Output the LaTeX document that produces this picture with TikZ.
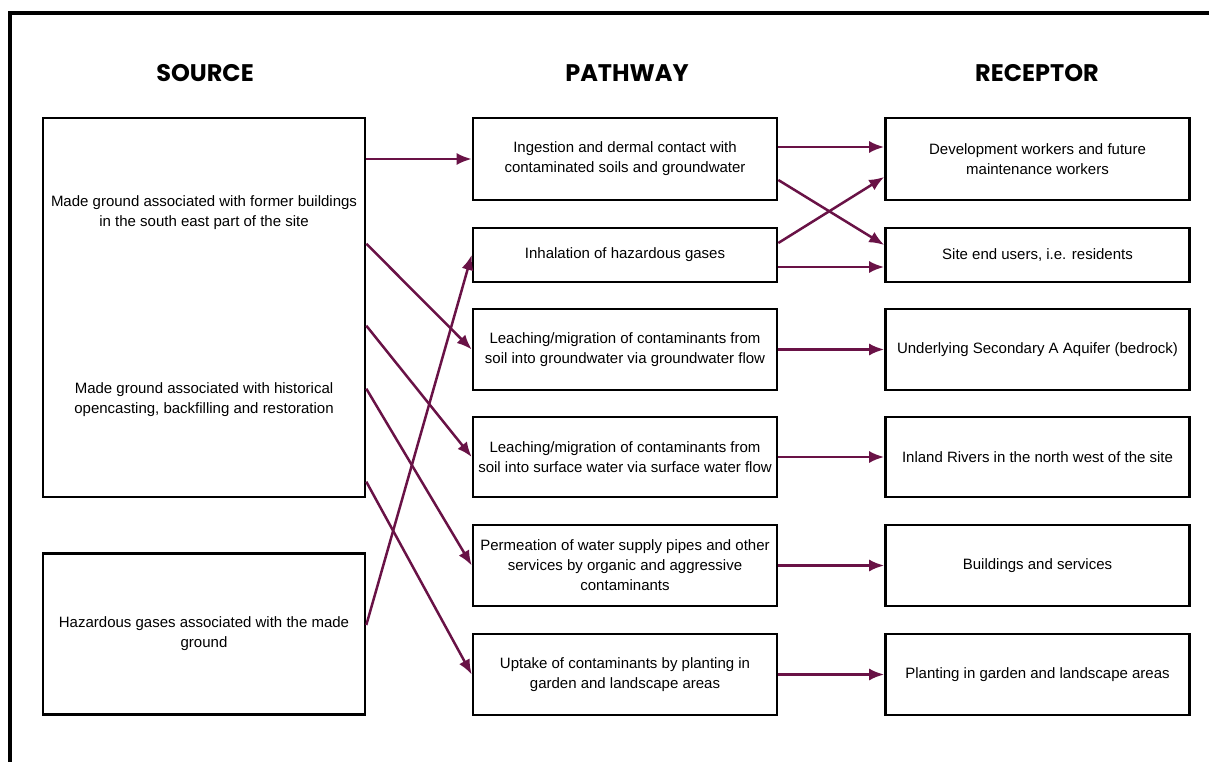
\documentclass[tikz,border=0pt]{standalone}
\usepackage{fontspec}
\setmainfont{Liberation Sans}
\newfontfamily\headfont{Poppins}
\usetikzlibrary{arrows.meta}
\definecolor{linkpurple}{RGB}{105,18,70}
\tikzset{
  boxtext/.style={align=center, inner sep=2pt, font=\fontsize{15}{20}\selectfont},
  box/.style={boxtext, draw, line width=2.6pt},
  colbox/.style={box, minimum width=304pt},
  heading/.style={font=\headfont\bfseries\fontsize{24}{28}\selectfont},
  link/.style={linkpurple, line width=2.5pt, -{Latex[length=15pt,width=12pt]}}
}

\begin{document}
\begin{tikzpicture}[x=1pt, y=-1pt]
                    \useasboundingbox (0,0) rectangle (1209,762);
                    \draw[line width=4pt] (1209,13) -- (10,13) -- (10,762);
                    \node[heading] (hsource) at (205,73) {SOURCE};
                    \node[heading] (hpathway) at (627,73) {PATHWAY};
                    \node[heading] (hreceptor) at (1037,73) {RECEPTOR};
                    \node[box, minimum width=322pt, minimum height=379pt] (src1) at (204,307.5) {};
                    \node[boxtext] (src1a) at (204,213)
                        {Made ground associated with former buildings\\in the south east part of the site};
                    \node[boxtext] (src1b) at (204,400)
                        {Made ground associated with historical\\opencasting, backfilling and restoration};
                    \node[box, minimum width=322pt, minimum height=161pt] (src2) at (204,634)
                        {Hazardous gases associated with the made\\ground};
                    \node[colbox, minimum height=82pt] (path1) at (625,159)
                        {Ingestion and dermal contact with\\contaminated soils and groundwater};
                    \node[colbox, minimum height=54pt] (path2) at (625,255)
                        {Inhalation of hazardous gases};
                    \node[colbox, minimum height=81pt] (path3) at (625,349.5)
                        {Leaching/migration of contaminants from\\soil into groundwater via groundwater flow};
                    \node[colbox, minimum height=80pt] (path4) at (625,457)
                        {Leaching/migration of contaminants from\\soil into surface water via surface water flow};
                    \node[colbox, minimum height=81pt] (path5) at (625,565.5)
                        {Permeation of water supply pipes and other\\services by organic and aggressive\\contaminants};
                    \node[colbox, minimum height=81pt] (path6) at (625,674.5)
                        {Uptake of contaminants by planting in\\garden and landscape areas};
                    \node[colbox, minimum height=82pt] (rec1) at (1037.5,159)
                        {Development workers and future\\maintenance workers};
                    \node[colbox, minimum height=54pt] (rec2) at (1037.5,255)
                        {Site end users, i.e. residents};
                    \node[colbox, minimum height=81pt] (rec3) at (1037.5,349.5)
                        {Underlying Secondary A Aquifer (bedrock)};
                    \node[colbox, minimum height=80pt] (rec4) at (1037.5,457)
                        {Inland Rivers in the north west of the site};
                    \node[colbox, minimum height=81pt] (rec5) at (1037.5,565.5)
                        {Buildings and services};
                    \node[colbox, minimum height=81pt] (rec6) at (1037.5,674.5)
                        {Planting in garden and landscape areas};
                    \draw[link] (src1.east |- path1.west) -- (path1.west);
                    \draw[link] ([yshift=-127pt]src1.north east) -- (path3.west);
                    \draw[link] ([yshift=-209pt]src1.north east) -- (path4.west);
                    \draw[link] ([yshift=-272pt]src1.north east) -- (path5.west);
                    \draw[link] ([yshift=-365pt]src1.north east) -- (path6.west);
                    \draw[link] ([yshift=9pt]src2.east) -- (path2.west);
                    \draw[link] ([yshift=12pt]path1.east) -- ([yshift=12pt]rec1.west);
                    \draw[link] ([yshift=-21pt]path1.east) -- ([yshift=10pt]rec2.west);
                    \draw[link] ([yshift=12pt]path2.east) -- ([yshift=-18pt]rec1.west);
                    \draw[link] ([yshift=-12pt]path2.east) -- ([yshift=-12pt]rec2.west);
                    \draw[link] (path3.east) -- (rec3.west);
                    \draw[link] (path4.east) -- (rec4.west);
                    \draw[link] (path5.east) -- (rec5.west);
                    \draw[link] (path6.east) -- (rec6.west);
                \end{tikzpicture}
\end{document}
